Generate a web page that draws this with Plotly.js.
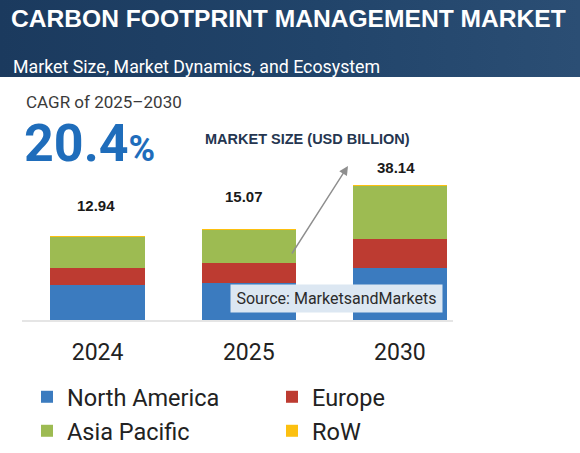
<!DOCTYPE html>
<html>
<head>
<meta charset="utf-8">
<script src="https://cdn.plot.ly/plotly-3.0.1.min.js"></script>
<style>
  html, body { margin: 0; padding: 0; background: #ffffff; }
  #chart {
    width: 580px; height: 453px;
    background: linear-gradient(90deg, #1b3a5e 0%, #21446a 55%, #2b4e74 100%) top left / 580px 77px no-repeat, #ffffff;
  }
</style>
</head>
<body>
<div id="chart"></div>
<script>
// ---- data (USD billion) ----
const categories   = ['2024', '2025', '2030'];
const totals       = [12.94, 15.07, 38.14];
const totalLabels  = ['12.94', '15.07', '38.14'];
const northAmerica = [4.71, 4.88, 6.75];
const europe       = [2.04, 2.61, 5.45];
const asiaPacific  = [5.93, 7.27, 25.14];
const restOfWorld  = [0.26, 0.31, 0.80];
const seriesNames  = ['North America', 'Europe', 'Asia Pacific', 'RoW'];

// ---- styles ----
const colors = ['#3b7bbf', '#bd3b31', '#9dbb52', '#fcc010'];
const legendIds = ['legend', 'legend', 'legend2', 'legend2'];
const labelShift = [31, 32.5, 17.3];
const labelXShift = [-2, -5, -4];
const series = [northAmerica, europe, asiaPacific, restOfWorld];

const traces = series.map((vals, i) => ({
  type: 'bar',
  name: seriesNames[i],
  x: categories,
  y: vals,
  marker: { color: colors[i], line: { width: 0 } },
  legend: legendIds[i],
  hoverinfo: 'skip'
}));

const W = 580, H = 453;
const px = v => v / W;
const py = v => 1 - v / H;

const annotations = [
  { xref: 'paper', yref: 'paper', x: px(9), y: py(18.5), xanchor: 'left', yanchor: 'middle', showarrow: false,
    text: '<b>CARBON FOOTPRINT MANAGEMENT MARKET</b>',
    font: { family: 'Liberation Sans, Arial, sans-serif', size: 24.6, color: '#ffffff' } },
  { xref: 'paper', yref: 'paper', x: px(11), y: py(67), xanchor: 'left', yanchor: 'middle', showarrow: false,
    text: 'Market Size, Market Dynamics, and Ecosystem',
    font: { family: 'Roboto, sans-serif', size: 17.8, color: '#ffffff' } },
  { xref: 'paper', yref: 'paper', x: px(24), y: py(102.5), xanchor: 'left', yanchor: 'middle', showarrow: false,
    text: 'CAGR of 2025–2030',
    font: { family: 'Roboto, sans-serif', size: 17, color: '#3a3a3a' } },
  { xref: 'paper', yref: 'paper', x: px(22), y: py(143.5), xanchor: 'left', yanchor: 'middle', showarrow: false,
    text: '<b>20.4</b><span style="font-size:36px"><b>%</b></span>', height: 40,
    font: { family: 'Roboto, sans-serif', size: 52, color: '#1f6dbb' } },
  { xref: 'paper', yref: 'paper', x: px(203), y: py(139), xanchor: 'left', yanchor: 'middle', showarrow: false,
    text: '<b>MARKET SIZE (USD BILLION)</b>',
    font: { family: 'Liberation Sans, Arial, sans-serif', size: 14.5, color: '#253650' } },
  { xref: 'paper', yref: 'paper', x: px(348), y: py(166), showarrow: true, text: '',
    ax: -57, ay: 89, arrowhead: 2, arrowsize: 1.3, arrowwidth: 1.4, arrowcolor: '#8e8e8e', standoff: 0 },
  { xref: 'paper', yref: 'paper', x: px(336.5), y: py(298.5), xanchor: 'center', yanchor: 'middle', showarrow: false,
    text: 'Source: MarketsandMarkets', width: 207, height: 23, borderpad: 2, bgcolor: '#dce7f2',
    font: { family: 'Roboto, sans-serif', size: 16, color: '#2b2b2b' } }
];

categories.forEach((c, i) => {
  annotations.push({
    xref: 'x', yref: 'y', x: i, y: Math.log10(totals[i]), yshift: labelShift[i], xshift: labelXShift[i],
    xanchor: 'center', yanchor: 'middle', showarrow: false,
    text: '<b>' + totalLabels[i] + '</b>',
    font: { family: 'Liberation Sans, Arial, sans-serif', size: 15, color: '#1a1a1a' }
  });
});

const legendBase = {
  orientation: 'h', xanchor: 'left', yanchor: 'middle', bgcolor: 'rgba(0,0,0,0)',
  entrywidth: 200, entrywidthmode: 'pixels', traceorder: 'normal',
  font: { family: 'Roboto, sans-serif', size: 23.5, color: '#222222' }
};

const layout = {
  width: W, height: H,
  margin: { l: 0, r: 0, t: 0, b: 0 },
  paper_bgcolor: 'rgba(0,0,0,0)',
  plot_bgcolor: 'rgba(0,0,0,0)',
  barmode: 'stack',
  bargap: 0.377,
  showlegend: true,
  xaxis: {
    type: 'category', domain: [px(22), px(475.5)], range: [-0.5, 2.5],
    showline: false, showgrid: false, zeroline: false, ticks: '',
    ticklabelstandoff: 16,
    tickfont: { family: 'Roboto, sans-serif', size: 23, color: '#222222' },
    fixedrange: true
  },
  yaxis: {
    type: 'log', domain: [1 - 320 / H, 1 - 160 / H], range: [0.356, 1.804],
    showline: false, showgrid: false, zeroline: false, showticklabels: false, ticks: '',
    fixedrange: true
  },
  legend: Object.assign({}, legendBase, { x: px(27), y: py(397) }),
  legend2: Object.assign({}, legendBase, { x: px(27), y: py(431) }),
  shapes: [
    { type: 'line', xref: 'paper', yref: 'paper', x0: px(22), x1: px(453), y0: py(321), y1: py(321),
      line: { color: '#dcdcdc', width: 1.5 } }
  ],
  annotations: annotations
};

Plotly.newPlot('chart', traces, layout, { displayModeBar: false, staticPlot: true });
</script>
</body>
</html>
